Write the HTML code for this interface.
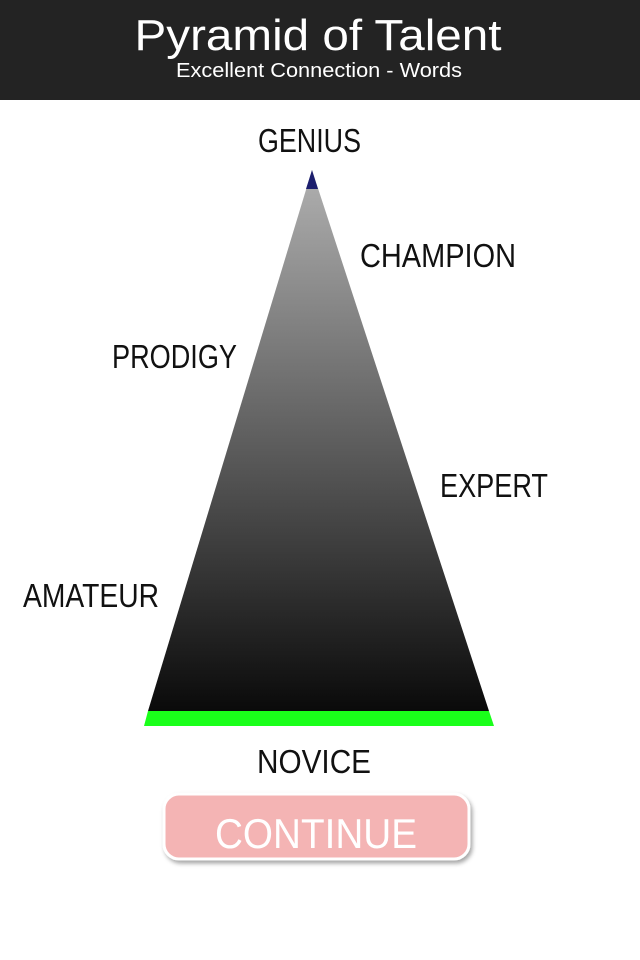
<!DOCTYPE html>
<html><head><meta charset="utf-8"><style>
html,body{margin:0;padding:0;width:640px;height:960px;overflow:hidden;background:#fff}
</style></head><body>
<svg width="640" height="960" viewBox="0 0 640 960" xmlns="http://www.w3.org/2000/svg" font-family="Liberation Sans, sans-serif">
<defs>
<linearGradient id="g" x1="0" y1="0" x2="0" y2="1">
<stop offset="0" stop-color="#b0b0b0"/>
<stop offset="0.5" stop-color="#5e5e5e"/>
<stop offset="1" stop-color="#0a0a0a"/>
</linearGradient>
<filter id="sh" x="-10%" y="-20%" width="130%" height="150%"><feDropShadow dx="2" dy="3" stdDeviation="2" flood-color="#000" flood-opacity="0.35"/></filter>
</defs>
<rect x="0" y="0" width="640" height="100" fill="#232323"/>
<text x="318" y="50" fill="#fff" font-size="44" text-anchor="middle" textLength="367" lengthAdjust="spacingAndGlyphs">Pyramid of Talent</text>
<text x="319" y="77" fill="#fff" font-size="20" text-anchor="middle" textLength="286" lengthAdjust="spacingAndGlyphs">Excellent Connection - Words</text>
<polygon points="312,170 489,711 148,711" fill="url(#g)"/>
<polygon points="312,170 318,189 306,189" fill="#1c1f6e"/>
<polygon points="148,711 489,711 494,726 144,726" fill="#1aff1a"/>
<g font-size="33" fill="#111">
<text x="258" y="152" textLength="103" lengthAdjust="spacingAndGlyphs">GENIUS</text>
<text x="360" y="267" textLength="156" lengthAdjust="spacingAndGlyphs">CHAMPION</text>
<text x="112" y="368" textLength="125" lengthAdjust="spacingAndGlyphs">PRODIGY</text>
<text x="440" y="497" textLength="108" lengthAdjust="spacingAndGlyphs">EXPERT</text>
<text x="23" y="607" textLength="136" lengthAdjust="spacingAndGlyphs">AMATEUR</text>
<text x="257" y="773" textLength="114" lengthAdjust="spacingAndGlyphs">NOVICE</text>
</g>
<rect x="164" y="794" width="305" height="65" rx="15" fill="#f4b4b4" stroke="#fff" stroke-width="3" filter="url(#sh)"/>
<text x="316" y="848" fill="#fff" font-size="42" text-anchor="middle" textLength="202" lengthAdjust="spacingAndGlyphs">CONTINUE</text>
</svg>
</body></html>
